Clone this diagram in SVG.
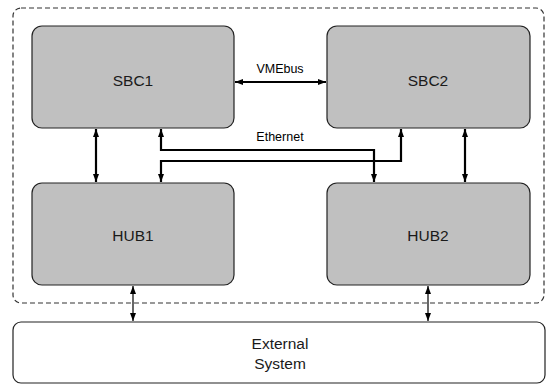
<svg xmlns="http://www.w3.org/2000/svg" width="547" height="385" viewBox="0 0 547 385">
<style>
.box{fill:#c0c0c0;stroke:#222;stroke-width:1.2}
.ext{fill:#fff;stroke:#222;stroke-width:1.2}
.lbl{font-family:"Liberation Sans",Arial,sans-serif;font-size:15.5px;fill:#1a1a1a;text-anchor:middle}
.sm{font-family:"Liberation Sans",Arial,sans-serif;font-size:12.5px;fill:#000;text-anchor:middle}
.thick{fill:none;stroke:#000;stroke-width:2.2;marker-start:url(#a);marker-end:url(#a)}
.thin{fill:none;stroke:#000;stroke-width:1.2;marker-start:url(#a);marker-end:url(#a)}
</style>
<defs>
<marker id="a" viewBox="0 0 8 6" refX="8" refY="3" markerWidth="8" markerHeight="6" markerUnits="userSpaceOnUse" orient="auto-start-reverse">
<path d="M0,0 L8,3 L0,6 Z" fill="#000"/>
</marker>
</defs>
<rect x="13" y="8" width="531" height="295" rx="8" fill="none" stroke="#333" stroke-width="1.2" stroke-dasharray="5,3"/>
<g id="SBC1"><rect class="box" x="32" y="26" width="202" height="102" rx="10"/><text class="lbl" x="133" y="86">SBC1</text></g>
<g id="SBC2"><rect class="box" x="327" y="26" width="203" height="102" rx="10"/><text class="lbl" x="428" y="86">SBC2</text></g>
<g id="HUB1"><rect class="box" x="32" y="183" width="202" height="102" rx="10"/><text class="lbl" x="133" y="241">HUB1</text></g>
<g id="HUB2"><rect class="box" x="327" y="183" width="203" height="102" rx="10"/><text class="lbl" x="428" y="241">HUB2</text></g>
<g id="External"><rect class="ext" x="13" y="322" width="532" height="61" rx="8"/><text class="lbl" x="280" y="349">External</text><text class="lbl" x="280" y="369">System</text></g>
<g id="connectors">
<path class="thick" d="M235,82 H326"/>
<text class="sm" x="280" y="73">VMEbus</text>
<path class="thick" d="M96,129 V182"/>
<path class="thick" d="M465,129 V182"/>
<path class="thick" d="M161,129 V150 H374 V182"/>
<path class="thick" d="M161,182 V161 H401 V129"/>
<text class="sm" x="280" y="141">Ethernet</text>
<path class="thin" d="M133,286 V321"/>
<path class="thin" d="M428,286 V321"/>
</g>
</svg>
